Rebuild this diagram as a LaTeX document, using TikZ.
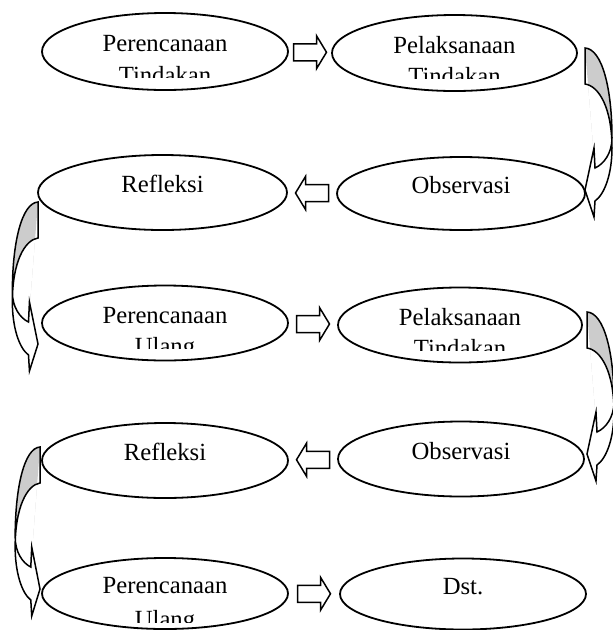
\documentclass[tikz,border=0pt]{standalone}
\usepackage{fontspec}
\setmainfont{Liberation Serif}
\usetikzlibrary{calc,shapes.geometric}
\definecolor{ribbonback}{HTML}{CCCCCC}

% outline of a curved ribbon arrow in local units (x outward, y down)
\def\ribbonpath{(0,0) .. controls (17,1) and (27,40) .. (27,90)
  .. controls (27,105) and (19,116) .. (10,120) -- (9,100) -- (0,142) -- (9,169) -- (10,153)
  .. controls (20,146) and (27,125) .. (27,100) .. controls (27,60) and (14,38) .. (0,36) -- cycle}
\def\ribbonupper{(0,0) .. controls (17,1) and (27,40) .. (27,90)
  .. controls (27,105) and (19,116) .. (10,120) -- cycle}
\def\ribbonlower{(0,36) .. controls (14,38) and (27,60) .. (27,100)
  .. controls (27,125) and (20,146) .. (10,153) -- cycle}

% #1 top corner of the ribbon, #2 horizontal scale (negative bends it to the left)
\newcommand\ribbonarrow[2]{%
  \begin{scope}[shift={(#1)}, xscale=#2]
    \fill[white] \ribbonpath;
    \begin{scope}
      \clip \ribbonupper;
      \fill[ribbonback] (-5,-5) rectangle (40,160);
      \fill[white] \ribbonlower;
    \end{scope}
    \draw[line width=1.5pt, line join=miter] \ribbonpath;
  \end{scope}}

% straight block arrow centred at #1, #2 = 1 (right) or -1 (left)
\newcommand\blockarrow[2]{%
  \begin{scope}[shift={(#1)}, xscale=#2]
    \draw[line width=1.5pt, fill=white, line join=miter]
      (-16.5,-8.5) -- (6.5,-8.5) -- (6.5,-16.5) -- (16.5,0) -- (6.5,16.5)
      -- (6.5,8.5) -- (-16.5,8.5) -- cycle;
  \end{scope}}

% two-line caption whose second line is cut off at depth #4 below the centre
\newcommand\twolines[5]{%
  \node[caption] (#1-a) at (#1.center) {#2};
  \begin{scope}
    \clip ($(#1.center)+(-110,0)$) rectangle ($(#1.center)+(110,#4)$);
    \node[caption] (#1-b) at ($(#1.center)+(0,#5)$) {#3};
  \end{scope}}

\begin{document}
\begin{tikzpicture}[x=1pt, y=-1pt,
  stage/.style={draw, ellipse, line width=1.8pt, inner sep=0pt,
    minimum width=246pt, minimum height=75pt},
  caption/.style={anchor=base, inner sep=0pt, font=\fontsize{24.7}{30}\selectfont}]
\useasboundingbox (0,0) rectangle (613,630);

% stages
\node[stage, minimum height=77pt] (e1) at (165,51.5) {};
\node[stage, minimum width=245pt, minimum height=76pt] (e2) at (454.5,53) {};
\node[stage, minimum width=249pt] (e3) at (162.5,192.5) {};
\node[stage, minimum width=248pt, minimum height=73pt] (e4) at (461,193.5) {};
\node[stage] (e5) at (165,323) {};
\node[stage, minimum width=244pt] (e6) at (460,325) {};
\node[stage] (e7) at (165,460.5) {};
\node[stage] (e8) at (461,459) {};
\node[stage, minimum height=71pt] (e9) at (165,593.5) {};
\node[stage, minimum height=71pt] (e10) at (463,594) {};

% captions
\twolines{e1}{Perencanaan}{Tindakan}{25.5}{31.5}
\twolines{e2}{Pelaksanaan}{Tindakan}{25}{31.5}
\node[caption] (e3-a) at (e3.center) {Refleksi};
\node[caption] (e4-a) at (e4.center) {Observasi};
\twolines{e5}{Perencanaan}{Ulang}{25}{31.5}
\twolines{e6}{Pelaksanaan}{Tindakan}{25}{31.5}
\node[caption] (e7-a) at (e7.center) {Refleksi};
\node[caption] (e8-a) at (e8.center) {Observasi};
\twolines{e9}{Perencanaan}{Ulang}{29}{34}
\node[caption] (e10-a) at (e10.center) {Dst.};

% straight arrows between neighbouring stages
\blockarrow{$(e1.east)!0.5!(e2.west)$}{1}
\blockarrow{$(e3.east)!0.5!(e4.west)$}{-1}
\blockarrow{$(e5.east)!0.5!(e6.west)$}{1}
\blockarrow{$(e7.east)!0.5!(e8.west)$}{-1}
\blockarrow{$(e9.east)!0.5!(e10.west)$}{1}

% curved arrows leading down to the next row
\ribbonarrow{585,48}{1}
\ribbonarrow{587,312}{1}
\ribbonarrow{38,202}{-0.95}
\ribbonarrow{40,447}{-0.92}
\end{tikzpicture}
\end{document}
